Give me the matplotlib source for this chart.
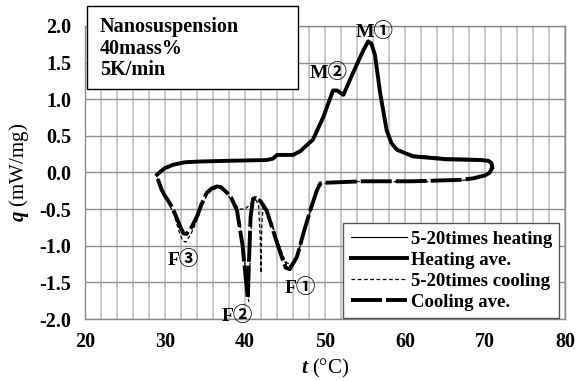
import matplotlib
matplotlib.use("Agg")
import matplotlib.pyplot as plt
import numpy as np
from matplotlib.patches import Rectangle

plt.rcParams["font.family"] = ["Liberation Serif", "Noto Sans CJK JP"]
plt.rcParams["font.weight"] = "bold"
plt.rcParams["mathtext.fontset"] = "custom"
plt.rcParams["mathtext.it"] = "Liberation Serif:italic:bold"
plt.rcParams["mathtext.rm"] = "Liberation Serif:bold"

# heating average (t, q)
heat_t = [29.0, 29.4, 30.0, 31.0, 32.5, 34.4, 38.0, 42.7, 43.5, 44.0, 46.0, 46.9,
          48.5, 49.8, 51.0, 51.5, 52.3, 53.5, 54.8, 55.4, 55.8, 56.25, 56.9, 57.7,
          58.3, 59.0, 61.0, 65.2, 69.4, 70.4, 70.8, 70.9]
heat_q = [-0.03, 0.01, 0.06, 0.105, 0.14, 0.15, 0.16, 0.17, 0.19, 0.24, 0.24, 0.29,
          0.45, 0.76, 1.12, 1.12, 1.06, 1.36, 1.67, 1.79, 1.76, 1.60, 1.08, 0.58,
          0.40, 0.31, 0.22, 0.18, 0.17, 0.16, 0.13, 0.07]

# one of the 5-20 heating runs
heat_run_t = [29.0, 29.4, 30.0, 31.0, 32.5, 34.4, 38.0, 42.7, 43.5, 44.0, 46.0, 46.9,
              48.5, 49.8, 51.0, 51.5, 52.3, 53.5, 54.8, 55.4, 55.8, 56.3, 57.0, 57.8,
              58.5, 59.3, 61.0, 65.2, 69.4, 70.4, 70.8, 70.9]
heat_run_q = [-0.03, 0.02, 0.07, 0.11, 0.14, 0.15, 0.16, 0.17, 0.19, 0.23, 0.25, 0.30,
              0.46, 0.78, 1.10, 1.13, 1.07, 1.38, 1.69, 1.77, 1.74, 1.58, 1.02, 0.55,
              0.38, 0.30, 0.24, 0.20, 0.19, 0.17, 0.14, 0.07]

# cooling average (t, q)
cool_t = [70.9, 70.6, 70.0, 68.5, 67.0, 61.0, 54.8, 50.0, 49.4, 49.0, 48.2, 47.3,
          46.5, 45.6, 45.1, 44.8, 44.0, 43.3, 42.7, 42.0, 41.4, 41.0, 40.7, 40.5,
          40.35, 40.1, 39.7, 39.0, 38.3, 37.7, 37.0, 36.5, 35.8, 35.2, 34.5, 34.0,
          33.3, 32.7, 32.3, 31.9, 31.2, 30.6, 30.0, 29.6, 29.2, 29.0, 29.0]
cool_q = [0.07, 0.0, -0.04, -0.08, -0.10, -0.12, -0.12, -0.14, -0.15, -0.24, -0.50, -0.83,
          -1.15, -1.32, -1.30, -1.22, -0.96, -0.72, -0.52, -0.40, -0.34, -0.36, -0.60, -1.20,
          -1.72, -1.45, -1.00, -0.52, -0.35, -0.27, -0.20, -0.19, -0.22, -0.28, -0.45, -0.60,
          -0.75, -0.84, -0.83, -0.74, -0.55, -0.42, -0.32, -0.24, -0.12, -0.05, -0.03]

# two of the 5-20 cooling runs
cool_run1_t = [70.9, 70.6, 70.0, 68.5, 67.0, 61.0, 54.8, 50.0, 49.4, 49.0, 48.2, 47.3,
               46.5, 45.7, 45.2, 44.8, 44.0, 43.3, 42.7, 42.0, 41.4, 41.0, 40.8, 40.6,
               40.45, 40.2, 39.8, 39.1, 38.3, 37.7, 37.0, 36.5, 35.8, 35.2, 34.5, 33.9,
               33.2, 32.6, 32.2, 31.8, 31.2, 30.6, 30.0, 29.6, 29.2, 29.0]
cool_run1_q = [0.07, 0.0, -0.05, -0.09, -0.11, -0.13, -0.12, -0.15, -0.16, -0.26, -0.52, -0.84,
               -1.12, -1.28, -1.26, -1.18, -0.93, -0.70, -0.50, -0.39, -0.33, -0.35, -0.65, -1.30,
               -1.76, -1.50, -1.02, -0.55, -0.37, -0.29, -0.22, -0.21, -0.25, -0.31, -0.50, -0.68,
               -0.85, -0.95, -0.93, -0.82, -0.60, -0.45, -0.34, -0.26, -0.13, -0.05]
cool_run2_t = [49.0, 48.2, 47.3, 46.5, 45.7, 45.2, 44.8, 44.0, 43.3, 42.7, 42.3, 42.1,
               42.0, 41.9, 41.7, 41.4, 41.0, 40.5, 40.0, 39.3, 38.5]
cool_run2_q = [-0.25, -0.52, -0.86, -1.14, -1.26, -1.23, -1.15, -0.90, -0.68, -0.50, -0.42, -0.70,
               -1.37, -0.90, -0.45, -0.38, -0.40, -0.45, -0.50, -0.50, -0.40]

fig = plt.figure(figsize=(5.81, 3.81), dpi=100)
ax = fig.add_axes([0.1463, 0.1627, 0.8262, 0.7691])

ax.set_xlim(20, 80)
ax.set_ylim(-2.0, 2.0)
ax.set_xticks(np.arange(20, 81, 10))
ax.set_xticks(np.arange(20, 81, 2), minor=True)
yt = np.arange(-2.0, 2.01, 0.5)
ax.set_yticks(yt)
ax.set_yticklabels([f"{v:.1f}" for v in yt])
ax.tick_params(which="both", length=0, labelsize=14.5)
ax.tick_params(axis="y", pad=10)
ax.tick_params(axis="x", pad=9)
ax.set_axisbelow(True)
ax.grid(axis="x", which="both", color="#c4c4c4", lw=1.3)
ax.grid(axis="y", color="#8f8f8f", lw=1.0)
for sp in ax.spines.values():
    sp.set_color("#8a8a8a")
    sp.set_linewidth(1.0)

ax.plot(heat_run_t, heat_run_q, color="black", lw=0.8, label="5-20times heating")
ax.plot(heat_t, heat_q, color="black", lw=2.8, label="Heating ave.")
ax.plot(cool_run1_t, cool_run1_q, color="black", lw=0.9, ls=(0, (3, 2)),
        label="5-20times cooling")
ax.plot(cool_run2_t, cool_run2_q, color="black", lw=0.9, ls=(0, (3, 2)))
ax.plot(cool_t, cool_q, color="black", lw=2.8, ls=(0, (8, 1)), label="Cooling ave.")

ax.set_xlabel("$t$ (°C)", fontsize=15, labelpad=4)
ax.set_ylabel("$q$ (mW/mg)", fontsize=15, labelpad=6)

# peak labels
ax.text(56.2, 1.92, "M①", fontsize=14, ha="center", va="center")
ax.text(50.4, 1.37, "M②", fontsize=14, ha="center", va="center")
ax.text(32.3, -1.19, "F③", fontsize=14, ha="center", va="center")
ax.text(39.1, -1.95, "F②", fontsize=14, ha="center", va="center")
ax.text(46.9, -1.57, "F①", fontsize=14, ha="center", va="center")

leg = ax.legend(loc="lower right", bbox_to_anchor=(0.99, 0.0), borderaxespad=0.05,
                fontsize=13.5, handlelength=3.0, handletextpad=0.2, labelspacing=0.2,
                borderpad=0.4, fancybox=False, framealpha=1)
leg.get_frame().set_edgecolor("#555555")
leg.get_frame().set_linewidth(1.0)

box = Rectangle((0.150, 0.766), 0.363, 0.218, transform=fig.transFigure,
                facecolor="white", edgecolor="black", lw=1.0, zorder=5)
fig.add_artist(box)
fig.text(0.172, 0.956, "Nanosuspension\n40mass%\n5K/min", fontsize=14.5,
         ha="left", va="top", linespacing=1.12, zorder=6)

fig.savefig("out.png", dpi=100)
